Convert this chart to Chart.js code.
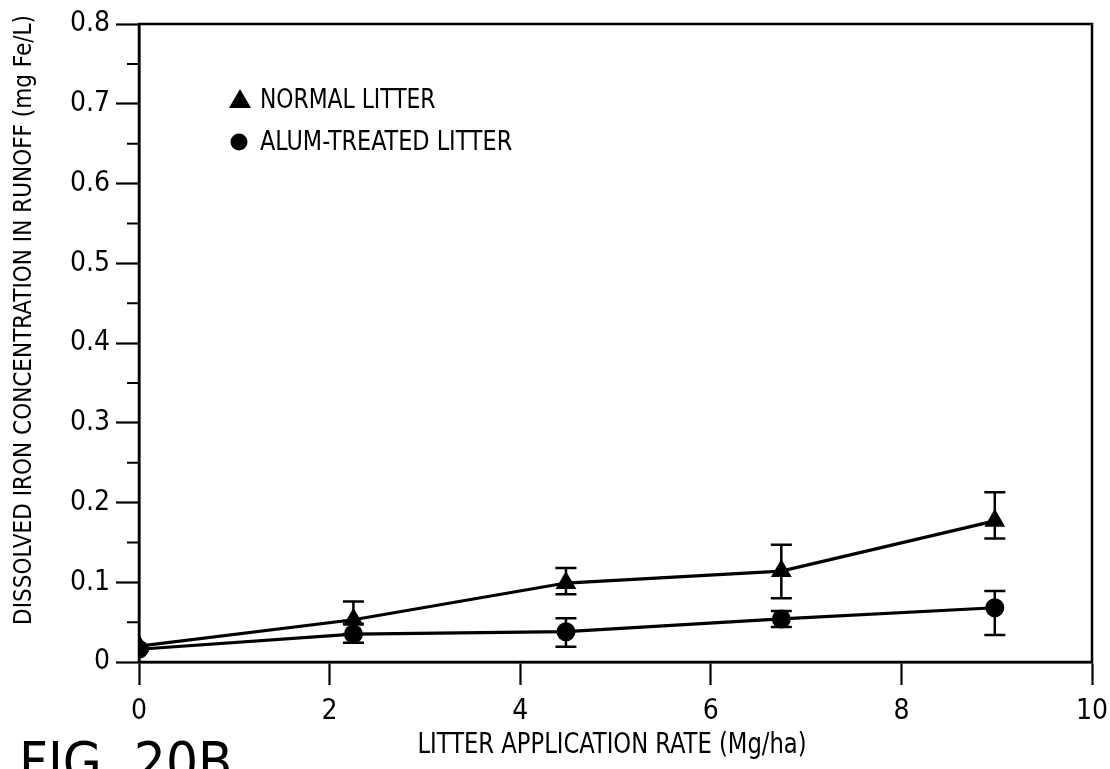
<!DOCTYPE html>
<html>
<head>
<meta charset="utf-8">
<script src="https://cdn.jsdelivr.net/npm/chart.js@4.4.1/dist/chart.umd.min.js"></script>
<style>
  html, body { margin: 0; padding: 0; background: #ffffff; }
  #wrap { width: 1110px; height: 769px; overflow: hidden; }
</style>
</head>
<body>
<div id="wrap"><canvas id="c" width="1110" height="769"></canvas></div>
<script>
// ---- data ----
const xValues     = [0, 2.25, 4.48, 6.74, 8.98];
const normalY     = [0.020, 0.053, 0.099, 0.114, 0.177];
const normalLow   = [0.020, 0.035, 0.085, 0.080, 0.155];
const normalHigh  = [0.020, 0.076, 0.118, 0.147, 0.213];
const alumY       = [0.016, 0.035, 0.038, 0.054, 0.068];
const alumLow     = [0.016, 0.024, 0.019, 0.044, 0.034];
const alumHigh    = [0.016, 0.048, 0.055, 0.064, 0.089];
const seriesNames = ['NORMAL LITTER', 'ALUM-TREATED LITTER'];
const xTickValues = [0, 2, 4, 6, 8, 10];
const xTickLabels = ['0', '2', '4', '6', '8', '10'];
const yTickValues = [0, 0.1, 0.2, 0.3, 0.4, 0.5, 0.6, 0.7, 0.8];
const yTickLabels = ['0', '0.1', '0.2', '0.3', '0.4', '0.5', '0.6', '0.7', '0.8'];
const yMinorTicks = [0.05, 0.15, 0.25, 0.35, 0.45, 0.55, 0.65, 0.75];
const xTitle = 'LITTER APPLICATION RATE (Mg/ha)';
const yTitle = 'DISSOLVED IRON CONCENTRATION IN RUNOFF (mg Fe/L)';
const figLabel = 'FIG. 20B';

const FONT = '"Liberation Sans Narrow", "DejaVu Sans Condensed", "Liberation Sans", sans-serif';
const INK = '#000000';

function pts(ys) { return xValues.map((x, i) => ({ x: x, y: ys[i] })); }

const errorSets = [
  { low: normalLow, high: normalHigh },
  { low: alumLow, high: alumHigh }
];

function condensedText(ctx, text, x, y, sx, align) {
  ctx.save();
  ctx.translate(x, y);
  ctx.scale(sx, 1);
  ctx.textAlign = align;
  ctx.fillText(text, 0, 0);
  ctx.restore();
}

const overlay = {
  id: 'overlay',
  beforeDatasetsDraw(chart) {
    const ctx = chart.ctx, xs = chart.scales.x, ys = chart.scales.y;
    ctx.save();
    ctx.strokeStyle = INK;
    ctx.lineWidth = 2.5;
    errorSets.forEach(set => {
      xValues.forEach((xv, i) => {
        if (set.high[i] - set.low[i] < 0.001) return;
        const px = xs.getPixelForValue(xv);
        const pLo = ys.getPixelForValue(set.low[i]);
        const pHi = ys.getPixelForValue(set.high[i]);
        ctx.beginPath();
        ctx.moveTo(px, pLo); ctx.lineTo(px, pHi);
        ctx.moveTo(px - 10.5, pLo); ctx.lineTo(px + 10.5, pLo);
        ctx.moveTo(px - 10.5, pHi); ctx.lineTo(px + 10.5, pHi);
        ctx.stroke();
      });
    });
    ctx.restore();
  },
  afterDraw(chart) {
    const ctx = chart.ctx, a = chart.chartArea, ys = chart.scales.y;
    ctx.save();
    // frame
    ctx.strokeStyle = INK;
    ctx.lineWidth = 2.5;
    ctx.strokeRect(a.left, a.top, a.right - a.left, a.bottom - a.top);
    // minor y ticks
    ctx.lineWidth = 2;
    ctx.beginPath();
    yMinorTicks.forEach(v => {
      const py = ys.getPixelForValue(v);
      ctx.moveTo(a.left - 12, py); ctx.lineTo(a.left, py);
    });
    ctx.stroke();
    // legend
    ctx.fillStyle = INK;
    ctx.beginPath();
    ctx.moveTo(240, 89); ctx.lineTo(251, 108); ctx.lineTo(229, 108); ctx.closePath();
    ctx.fill();
    ctx.beginPath();
    ctx.arc(239, 142, 8.5, 0, Math.PI * 2);
    ctx.fill();
    ctx.font = '27px ' + FONT;
    ctx.textBaseline = 'middle';
    condensedText(ctx, seriesNames[0], 260, 101, 0.9, 'left');
    condensedText(ctx, seriesNames[1], 260, 143, 0.92, 'left');
    // axis titles
    ctx.font = '28px ' + FONT;
    condensedText(ctx, xTitle, 612, 746, 0.9, 'center');
    ctx.save();
    ctx.translate(24, 320);
    ctx.rotate(-Math.PI / 2);
    ctx.font = '25px ' + FONT;
    condensedText(ctx, yTitle, 0, 0, 0.96, 'center');
    ctx.restore();
    // figure label (cut off at the bottom edge)
    ctx.font = '56px ' + FONT;
    ctx.textAlign = 'left';
    ctx.textBaseline = 'alphabetic';
    ctx.fillText(figLabel, 19, 781);
    ctx.restore();
  }
};

new Chart(document.getElementById('c'), {
  type: 'line',
  data: {
    datasets: [
      {
        label: seriesNames[0],
        data: pts(normalY),
        borderColor: INK, backgroundColor: INK,
        borderWidth: 3.2, pointStyle: 'triangle', pointRadius: 12,
        pointBorderWidth: 0, tension: 0
      },
      {
        label: seriesNames[1],
        data: pts(alumY),
        borderColor: INK, backgroundColor: INK,
        borderWidth: 3.2, pointStyle: 'circle', pointRadius: 9.5,
        pointBorderWidth: 0, tension: 0
      }
    ]
  },
  options: {
    responsive: false,
    animation: false,
    events: [],
    layout: { padding: { top: 24, right: 18, left: 0, bottom: 0 } },
    plugins: { legend: { display: false }, tooltip: { enabled: false }, title: { display: false } },
    scales: {
      x: {
        type: 'linear', min: 0, max: 10,
        afterBuildTicks(s) { s.ticks = xTickValues.map(v => ({ value: v })); },
        afterFit(s) { s.height = 107; s.paddingLeft = 0; s.paddingRight = 0; },
        ticks: {
          color: INK, padding: 10,
          font: { family: FONT, size: 28 },
          maxRotation: 0,
          callback(v) { const i = xTickValues.indexOf(v); return i >= 0 ? xTickLabels[i] : ''; }
        },
        grid: { drawOnChartArea: false, drawTicks: true, tickLength: 23, tickWidth: 2.2, tickColor: INK },
        border: { display: true, color: INK, width: 2.5 }
      },
      y: {
        type: 'linear', min: 0, max: 0.8,
        afterBuildTicks(s) { s.ticks = yTickValues.map(v => ({ value: v })); },
        afterFit(s) { s.width = 139; s.paddingTop = 0; s.paddingBottom = 0; },
        ticks: {
          color: INK, padding: 6,
          font: { family: FONT, size: 28 },
          callback(v) {
            const i = yTickValues.findIndex(t => Math.abs(t - v) < 1e-9);
            return i >= 0 ? yTickLabels[i] : '';
          }
        },
        grid: { drawOnChartArea: false, drawTicks: true, tickLength: 23, tickWidth: 2.2, tickColor: INK },
        border: { display: true, color: INK, width: 2.5 }
      }
    }
  },
  plugins: [overlay]
});
</script>
</body>
</html>
